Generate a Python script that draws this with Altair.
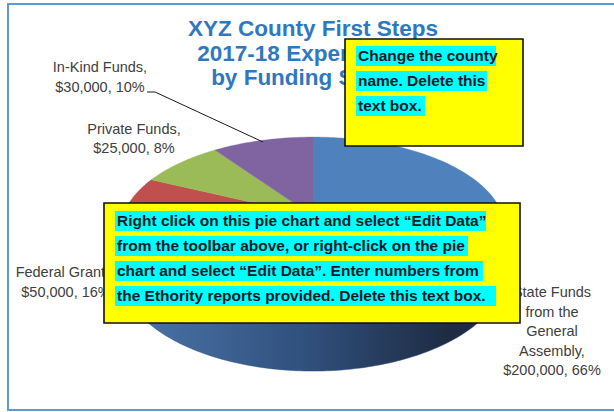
import altair as alt
import pandas as pd
import numpy as np

# ---------------- data ----------------
categories = ["State Funds from the General Assembly", "Federal Grants", "Private Funds", "In-Kind Funds"]
values = [200000, 50000, 25000, 30000]
top_colors = ["#4F81BD", "#C0504D", "#9BBB59", "#8064A2"]
side_stops = [["#4A72A6", "#30507D", "#1E2B42"], ["#9A3C3A", "#7A2E2C", "#5E2221"], ["#7A9446", "#62773A", "#4C5C2D"], ["#654F82", "#50406A", "#3E3152"]]

title_lines = ["XYZ County First Steps", "2017-18 Expenditures", "by Funding Source"]
note1_lines = ["Change the county", "name. Delete this", "text box."]
note2_lines = [
    "Right click on this pie chart and select \u201cEdit Data\u201d",
    "from the toolbar above, or right-click on the pie",
    "chart and select \u201cEdit Data\u201d. Enter numbers from",
    "the Ethority reports provided. Delete this text box.",
]
label_lines = [
    ["State Funds", "from the", "General", "Assembly,"],
    ["Federal Grants,"],
    ["Private Funds,"],
    ["In-Kind Funds,"],
]

# ---------------- layout (pixels) ----------------
W, H = 614, 412
CX, CY, RA, RB, DEPTH, PERSP = 313, 216, 190, 90.8, 41, 0.15
label_pos = [(552, 293, 19.5), (66, 273, 20), (134, 130, 19), (100, 68, 19.5)]
leader = [(147, 92), (155, 92), (263, 142)]

total = sum(values)
pcts = [round(v / total * 100) for v in values]

def rim(t, dy=0.0):
    r = np.radians(t)
    z = -np.cos(r)
    s = 1.0 / (1.0 - PERSP * z)
    return CX + RA * np.sin(r) * s, CY + (RB * z + dy) * s

top_rows, side_rows = [], []
start = 0.0
for i, (cat, v) in enumerate(zip(categories, values)):
    a0 = start / total * 360
    a1 = (start + v) / total * 360
    start += v
    angs = np.linspace(a0, a1, int(a1 - a0) + 2)
    pts = [(CX, CY)] + [rim(t) for t in angs] + [(CX, CY)]
    for j, (x, y) in enumerate(pts):
        top_rows.append(dict(slice=cat, x=x, y=y, o=j))
    lo, hi = max(a0, 90), min(a1, 270)
    if hi > lo:
        sa = np.linspace(lo, hi, int(hi - lo) + 2)
        spts = [rim(t) for t in sa] + [rim(t, DEPTH) for t in sa[::-1]]
        spts.append(spts[0])
        for j, (x, y) in enumerate(spts):
            side_rows.append(dict(slice=cat, idx=i, x=x, y=y, o=j))

top_df = pd.DataFrame(top_rows)
side_df = pd.DataFrame(side_rows)

xs = alt.Scale(domain=[0, W], nice=False, zero=False)
ys = alt.Scale(domain=[H, 0], nice=False, zero=False)
X = lambda f="x": alt.X(f"{f}:Q", scale=xs, axis=None)
Y = lambda f="y": alt.Y(f"{f}:Q", scale=ys, axis=None)

layers = []

# frame
frame = alt.Chart(pd.DataFrame([dict(x=8, x2=640, y=4, y2=410)])).mark_rect(
    fill="white", stroke="#5B9BD5", strokeWidth=2, clip=True
).encode(x=X(), x2="x2:Q", y=Y(), y2="y2:Q")
layers.append(frame)

# sides
for i in sorted(side_df["idx"].unique()):
    st = side_stops[i]
    grad = alt.Gradient(
        gradient="linear",
        stops=[alt.GradientStop(color=st[0], offset=0), alt.GradientStop(color=st[1], offset=0.45), alt.GradientStop(color=st[2], offset=0.85), alt.GradientStop(color=st[2], offset=1)],
        x1=0, x2=1, y1=0, y2=0,
    )
    layers.append(
        alt.Chart(side_df[side_df["idx"] == i]).mark_line(fill=grad, stroke=st[1], strokeWidth=0.5)
        .encode(x=X(), y=Y(), order="o:Q", detail="slice:N")
    )

# top face
cscale = alt.Scale(domain=categories, range=top_colors)
layers.append(
    alt.Chart(top_df).mark_line(strokeWidth=0.6, strokeOpacity=0.6).encode(
        x=X(), y=Y(), order="o:Q",
        fill=alt.Fill("slice:N", scale=cscale, legend=None),
        color=alt.Color("slice:N", scale=cscale, legend=None),
    )
)

# data labels
lab_rows = []
for i, (lines, (lx, ly, step)) in enumerate(zip(label_lines, label_pos)):
    all_lines = lines + [f"${values[i]:,}, {pcts[i]}%"]
    for k, t in enumerate(all_lines):
        lab_rows.append(dict(x=lx, y=ly + k * step, t=t))
layers.append(
    alt.Chart(pd.DataFrame(lab_rows)).mark_text(
        font="Liberation Sans", fontSize=14.5, color="#404040", align="center", baseline="middle"
    ).encode(x=X(), y=Y(), text="t:N")
)

# leader line
layers.append(
    alt.Chart(pd.DataFrame([dict(x=p[0], y=p[1], o=k) for k, p in enumerate(leader)])).mark_line(
        color="#1a1a1a", strokeWidth=1
    ).encode(x=X(), y=Y(), order="o:Q")
)

# title
layers.append(
    alt.Chart(pd.DataFrame([dict(x=313, y=29 + k * 24.5, t=t) for k, t in enumerate(title_lines)])).mark_text(
        font="Liberation Sans", fontSize=22.5, fontWeight="bold", color="#2E78C0", align="center", baseline="middle"
    ).encode(x=X(), y=Y(), text="t:N")
)

# note boxes
boxes = pd.DataFrame([dict(x=345, x2=523, y=39, y2=146), dict(x=104, x2=520, y=203, y2=323)])
layers.append(
    alt.Chart(boxes).mark_rect(fill="#FFFF00", stroke="#111111", strokeWidth=1.6).encode(
        x=X(), x2="x2:Q", y=Y(), y2="y2:Q"
    )
)

note_rows, hl_rows = [], []
n1_ends = [496, 487, 425]
n2_ends = [486, 468, 483, 496]
for k, t in enumerate(note1_lines):
    yc = 56 + k * 25
    note_rows.append(dict(x=358, y=yc, t=t))
    hl_rows.append(dict(x=356, x2=n1_ends[k], y=yc - 10, y2=yc + 10))
for k, t in enumerate(note2_lines):
    yc = 221 + k * 25
    note_rows.append(dict(x=117, y=yc, t=t))
    hl_rows.append(dict(x=115, x2=n2_ends[k], y=yc - 10, y2=yc + 10))

layers.append(
    alt.Chart(pd.DataFrame(hl_rows)).mark_rect(fill="#00FFFF").encode(x=X(), x2="x2:Q", y=Y(), y2="y2:Q")
)
layers.append(
    alt.Chart(pd.DataFrame(note_rows)).mark_text(
        font="Liberation Sans", fontSize=15.5, fontWeight="bold", color="#0D1A26", align="left", baseline="middle"
    ).encode(x=X(), y=Y(), text="t:N")
)

chart = alt.layer(*layers).properties(
    width=W, height=H, autosize=alt.AutoSizeParams(type="none"), padding=0
).configure_view(stroke=None)

chart.save("out.html", embed_options={"renderer": "svg", "actions": False})
